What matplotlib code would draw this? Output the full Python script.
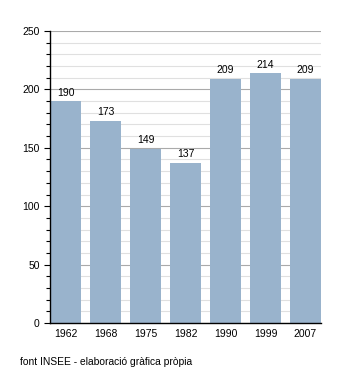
import matplotlib
matplotlib.use("Agg")
import matplotlib.pyplot as plt
from matplotlib.ticker import MultipleLocator

years = ["1962", "1968", "1975", "1982", "1990", "1999", "2007"]
population = [190, 173, 149, 137, 209, 214, 209]
source = "font INSEE - elaboració gràfica pròpia"

plt.rcParams["font.family"] = ["Liberation Sans", "DejaVu Sans"]

fig = plt.figure(figsize=(3.5, 3.73), dpi=100)
ax = fig.add_axes([50 / 350, 1 - 323 / 373, 271 / 350, 292 / 373])

w = 0.775
x = list(range(len(years)))
bars = ax.bar(x, population, width=w, color="#99b3cc", zorder=3)
for xi, v in zip(x, population):
    ax.text(xi, v + 3, str(v), ha="center", va="bottom", fontsize=7.5, zorder=4)

ax.set_xlim(-w / 2, len(years) - 1 + w / 2)
ax.set_ylim(0, 250)
ax.set_xticks(x)
ax.set_xticklabels(years, fontsize=7.5)
ax.yaxis.set_major_locator(MultipleLocator(50))
ax.yaxis.set_minor_locator(MultipleLocator(10))
ax.tick_params(axis="y", which="major", labelsize=7.5, length=4, width=0.8, direction="out")
ax.tick_params(axis="y", which="minor", length=3, width=0.8, direction="out")
ax.tick_params(axis="x", length=0, pad=4)

ax.grid(True, axis="y", which="minor", color="#e0e0e0", linewidth=0.8, zorder=0)
ax.grid(True, axis="y", which="major", color="#aaaaaa", linewidth=0.8, zorder=1)

for s in ["top", "right"]:
    ax.spines[s].set_visible(False)
ax.spines["left"].set_linewidth(1.0)
ax.spines["bottom"].set_linewidth(1.0)
ax.spines["left"].set_zorder(5)
ax.spines["bottom"].set_zorder(5)

fig.text(20 / 350, 1 - 362 / 373, source, fontsize=7.4, va="center", ha="left")

fig.savefig("out.png", dpi=100)
